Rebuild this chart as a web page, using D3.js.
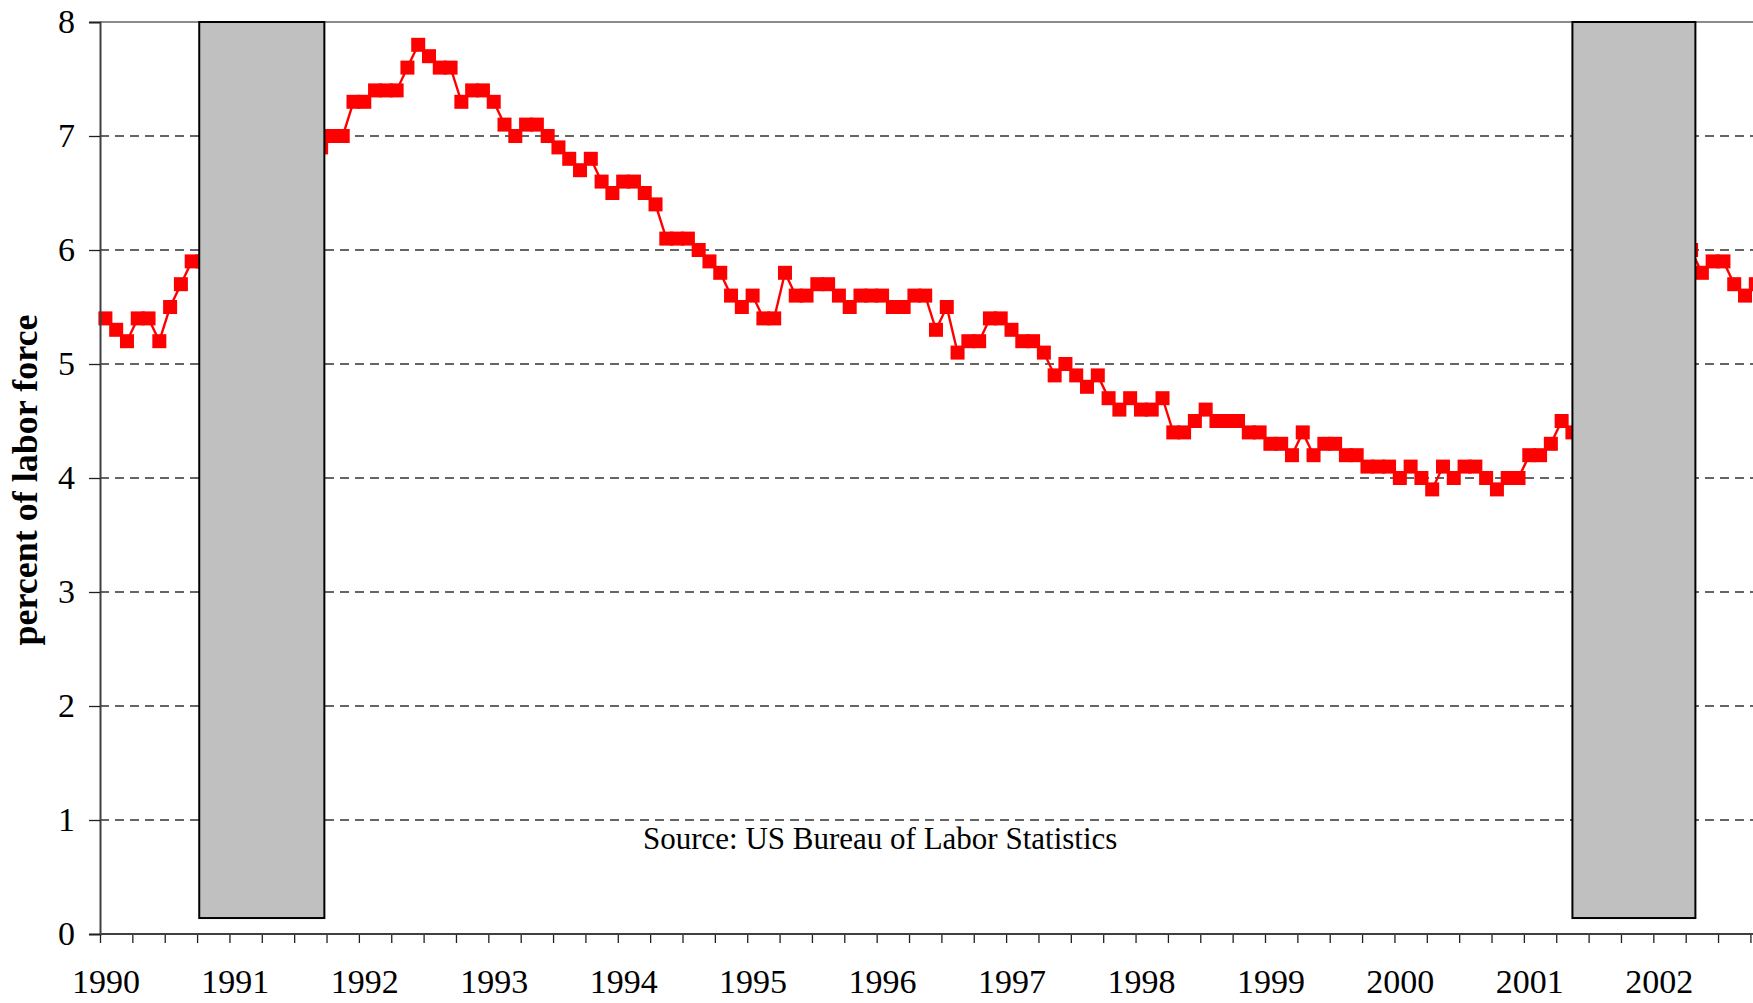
<!DOCTYPE html>
<html>
<head>
<meta charset="utf-8">
<script src="https://cdn.jsdelivr.net/npm/d3@7"></script>
<style>
  body { margin: 0; background: #fff; }
  svg { display: block; font-family: "Liberation Serif", "Times New Roman", serif; }
</style>
</head>
<body>
<div id="chart"></div>
<script>
// monthly unemployment rate, Jan 1990 .. Oct 2002
var yearLabels = ["1990", "1991", "1992", "1993", "1994", "1995", "1996",
                  "1997", "1998", "1999", "2000", "2001", "2002"];
var yTicks = [0, 1, 2, 3, 4, 5, 6, 7, 8];
var rate = [
    5.4, 5.3, 5.2, 5.4, 5.4, 5.2, 5.5, 5.7, 5.9, 5.9, 6.2, 6.3,
    6.4, 6.6, 6.8, 6.7, 6.9, 6.9, 6.8, 6.9, 6.9, 7.0, 7.0, 7.3,
    7.3, 7.4, 7.4, 7.4, 7.6, 7.8, 7.7, 7.6, 7.6, 7.3, 7.4, 7.4,
    7.3, 7.1, 7.0, 7.1, 7.1, 7.0, 6.9, 6.8, 6.7, 6.8, 6.6, 6.5,
    6.6, 6.6, 6.5, 6.4, 6.1, 6.1, 6.1, 6.0, 5.9, 5.8, 5.6, 5.5,
    5.6, 5.4, 5.4, 5.8, 5.6, 5.6, 5.7, 5.7, 5.6, 5.5, 5.6, 5.6,
    5.6, 5.5, 5.5, 5.6, 5.6, 5.3, 5.5, 5.1, 5.2, 5.2, 5.4, 5.4,
    5.3, 5.2, 5.2, 5.1, 4.9, 5.0, 4.9, 4.8, 4.9, 4.7, 4.6, 4.7,
    4.6, 4.6, 4.7, 4.4, 4.4, 4.5, 4.6, 4.5, 4.5, 4.5, 4.4, 4.4,
    4.3, 4.3, 4.2, 4.4, 4.2, 4.3, 4.3, 4.2, 4.2, 4.1, 4.1, 4.1,
    4.0, 4.1, 4.0, 3.9, 4.1, 4.0, 4.1, 4.1, 4.0, 3.9, 4.0, 4.0,
    4.2, 4.2, 4.3, 4.5, 4.4, 4.5, 4.5, 4.9, 4.9, 5.4, 5.6, 5.8,
    5.6, 5.5, 5.7, 6.0, 5.8, 5.9, 5.9, 5.7, 5.6, 5.7
];
// shaded recession boxes, in months since Jan 1990
var recessionStart = [9.2, 136.5];
var recessionEnd = [20.8, 147.9];
var recessionTop = 8;
var recessionBottom = 0.14;

var width = 1753, height = 1003;
var plotLeft = 100, plotTop = 22, plotBottom = 934;
var monthWidth = 10.787;
var nMonths = 156;

var svg = d3.select('#chart')
    .append('svg')
    .attr('width', width)
    .attr('height', height);

var x = d3.scaleLinear()
    .domain([0, nMonths])
    .range([plotLeft, plotLeft + nMonths * monthWidth]);

var y = d3.scaleLinear()
    .domain([0, 8])
    .range([plotBottom, plotTop]);

// dashed gridlines
svg.append('g')
    .selectAll('line')
    .data(yTicks.filter(function(d) { return d > 0 && d < 8; }))
    .enter()
    .append('line')
    .attr('x1', plotLeft)
    .attr('x2', width)
    .attr('y1', function(d) { return y(d); })
    .attr('y2', function(d) { return y(d); })
    .attr('stroke', '#333')
    .attr('stroke-width', 1.4)
    .attr('stroke-dasharray', '9,6');

// top border of plot
svg.append('line')
    .attr('x1', plotLeft)
    .attr('x2', width)
    .attr('y1', y(8))
    .attr('y2', y(8))
    .attr('stroke', '#8c8c8c')
    .attr('stroke-width', 2);

// the series
var line = d3.line()
    .x(function(d, i) { return x(i + 0.5); })
    .y(function(d) { return y(d); });

svg.append('path')
    .datum(rate)
    .attr('d', line)
    .attr('fill', 'none')
    .attr('stroke', '#ff0000')
    .attr('stroke-width', 2.4);

var markerSize = 14;
svg.append('g')
    .selectAll('rect')
    .data(rate)
    .enter()
    .append('rect')
    .attr('x', function(d, i) { return x(i + 0.5) - markerSize / 2; })
    .attr('y', function(d) { return y(d) - markerSize / 2; })
    .attr('width', markerSize)
    .attr('height', markerSize)
    .attr('fill', '#ff0000');

// recession boxes sit on top of the line
svg.append('g')
    .selectAll('rect')
    .data(recessionStart)
    .enter()
    .append('rect')
    .attr('x', function(d) { return x(d); })
    .attr('y', y(recessionTop))
    .attr('width', function(d, i) { return x(recessionEnd[i]) - x(d); })
    .attr('height', y(recessionBottom) - y(recessionTop))
    .attr('fill', '#c0c0c0')
    .attr('stroke', '#000')
    .attr('stroke-width', 2);

// y axis
var yAxis = svg.append('g')
    .attr('transform', 'translate(' + plotLeft + ',0)')
    .call(d3.axisLeft(y).tickValues(yTicks).tickSize(11).tickPadding(14).tickFormat(d3.format('d')));
yAxis.select('.domain').attr('stroke', '#404040').attr('stroke-width', 2);
yAxis.selectAll('.tick line').attr('stroke', '#202020').attr('stroke-width', 1.3);
yAxis.selectAll('.tick text')
    .attr('font-size', 34)
    .attr('font-family', '"Liberation Serif", serif')
    .attr('fill', '#000');

// x axis: quarterly ticks
var xAxis = svg.append('g')
    .attr('transform', 'translate(0,' + plotBottom + ')')
    .call(d3.axisBottom(x).tickValues(d3.range(0, nMonths + 1, 3)).tickSize(9).tickFormat(''));
xAxis.select('.domain').remove();
xAxis.selectAll('.tick line').attr('stroke', '#202020').attr('stroke-width', 1.3);
svg.append('line')
    .attr('x1', plotLeft)
    .attr('x2', width)
    .attr('y1', plotBottom)
    .attr('y2', plotBottom)
    .attr('stroke', '#404040')
    .attr('stroke-width', 2);

// year labels, centred on each January
var yearAxis = svg.append('g')
    .attr('transform', 'translate(0,' + plotBottom + ')')
    .call(d3.axisBottom(x)
        .tickValues(yearLabels.map(function(d, i) { return i * 12 + 0.5; }))
        .tickSize(0)
        .tickFormat(function(d, i) { return yearLabels[i]; }));
yearAxis.select('.domain').remove();
yearAxis.selectAll('.tick text')
    .attr('y', 59)
    .attr('dy', 0)
    .attr('font-size', 34)
    .attr('font-family', '"Liberation Serif", serif')
    .attr('fill', '#000');

// axis title
svg.append('text')
    .attr('transform', 'translate(37,' + ((plotTop + plotBottom) / 2 + 2) + ') rotate(-90)')
    .attr('text-anchor', 'middle')
    .attr('font-size', 36)
    .attr('font-weight', 'bold')
    .text('percent of labor force');

// source note
svg.append('text')
    .attr('x', 643)
    .attr('y', 849)
    .attr('font-size', 31)
    .text('Source: US Bureau of Labor Statistics');
</script>
</body>
</html>
